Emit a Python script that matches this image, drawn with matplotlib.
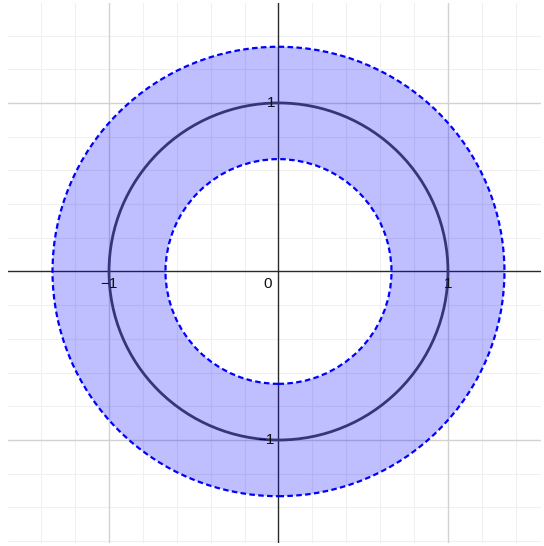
import matplotlib.pyplot as plt
import numpy as np
from matplotlib.patches import Circle, Wedge

# annulus and unit circle
inner_radius = 2 / 3
outer_radius = 4 / 3
unit_radius = 1.0

x_ticks = [-1, 1]
y_ticks = [-1, 1]
tick_text = {-1: '\u22121', 1: '1'}

xmin, xmax = -1.596, 1.549
ymin, ymax = -1.611, 1.593

plt.rcParams['font.family'] = ['Liberation Sans', 'DejaVu Sans']

fig = plt.figure(figsize=(5.44, 5.46), dpi=100)
ax = fig.add_axes([8 / 544, 3 / 546, 533 / 544, 540 / 546])
ax.set_xlim(xmin, xmax)
ax.set_ylim(ymin, ymax)
for s in ax.spines.values():
    s.set_visible(False)
ax.set_xticks([])
ax.set_yticks([])

# grid
minor = np.arange(-1.6, 1.61, 0.2)
for v in minor:
    if abs(v - round(v)) < 1e-6:
        continue
    ax.axvline(v, color='#f0f0f0', lw=0.8, zorder=0)
    ax.axhline(v, color='#f0f0f0', lw=0.8, zorder=0)
for v in x_ticks:
    ax.axvline(v, color='#d2d2d2', lw=1.0, zorder=0)
for v in y_ticks:
    ax.axhline(v, color='#d2d2d2', lw=1.0, zorder=0)
ax.axhline(0, color='#2a2a2a', lw=1.0, zorder=1)
ax.axvline(0, color='#2a2a2a', lw=1.0, zorder=1)

# shaded ring
ring = Wedge((0, 0), outer_radius, 0, 360, width=outer_radius - inner_radius,
             facecolor=(0, 0, 1, 0.25), edgecolor='none', zorder=2)
ax.add_patch(ring)
for r in [inner_radius, outer_radius]:
    ax.add_patch(Circle((0, 0), r, fill=False, edgecolor='#0000ff', lw=1.6,
                        linestyle=(0, (2.5, 1.5)), zorder=3))
ax.add_patch(Circle((0, 0), unit_radius, fill=False, edgecolor='#35357a',
                    lw=2.0, zorder=4))

# tick labels
for v in x_ticks:
    ax.text(v, -0.035, tick_text[v], ha='center', va='top', fontsize=11,
            color='#111111', zorder=5)
for v in y_ticks:
    ax.text(-0.02, v, tick_text[v], ha='right', va='center', fontsize=11,
            color='#111111', zorder=5)
ax.text(-0.04, -0.035, '0', ha='right', va='top', fontsize=11, color='#111111', zorder=5)

fig.savefig('out.png', dpi=100)
